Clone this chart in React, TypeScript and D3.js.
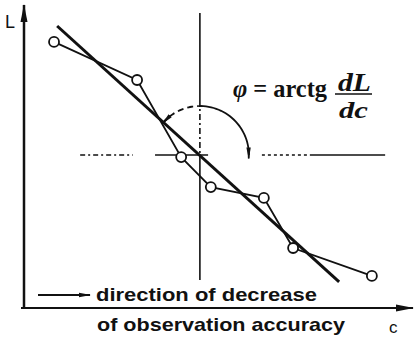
import * as d3 from 'd3';

const W = 416;
const H = 339;

// observed points (c, L) in arbitrary units
const obsC = [0.77, 2.9, 4.03, 4.79, 6.15, 6.9, 8.92];
const obsL = [8.87, 7.6, 5.03, 4.03, 3.67, 2.0, 1.07];

// fitted straight line end points
const fitC = [0.85, 8.08];
const fitL = [9.4, 0.87];

// crosshair through the tangent point
const crossC = 4.51;
const crossL = 5.1;
// vertical crosshair pieces: [fromL, toL, dashed]
const vertPieces: [number, number, boolean][] = [
  [9.83, 6.93, false],
  [6.93, 4.9, true],
  [4.9, 0.93, false],
];
// horizontal crosshair pieces: [fromC, toC, dash]
const horzPieces: [number, number, string | null][] = [
  [1.44, 2.79, '5 3 2 3'],
  [3.36, 4.72, null],
  [6.1, 7.33, '3 3'],
  [7.33, 9.26, null],
];

const x = d3.scaleLinear().domain([0, 10]).range([24, 414]);
const y = d3.scaleLinear().domain([0, 10]).range([308, 8]);

const INK = '#111';

export default function App() {
  const pts = obsC.map((c, i) => [x(c), y(obsL[i])] as [number, number]);
  const poly = d3.line()(pts) ?? '';

  // angle arc around the crosshair centre
  const cx = x(crossC);
  const cy = y(crossL);
  const r = 49;
  const arcPt = (deg: number) => {
    const a = (deg * Math.PI) / 180;
    return [cx + r * Math.cos(a), cy - r * Math.sin(a)] as [number, number];
  };
  const arcPath = (a0: number, a1: number) => {
    const n = 30;
    const p = d3.range(n + 1).map(i => arcPt(a0 + ((a1 - a0) * i) / n));
    return d3.line()(p) ?? '';
  };
  const leftTip = arcPt(140);
  const rightTip = arcPt(-4);

  return (
    <svg width={W} height={H} style={{ position: 'absolute', left: 0, top: 0, background: '#fff' }}>
      <defs>
        <marker id="ah" viewBox="0 0 12 6" refX="11" refY="3" markerWidth="12" markerHeight="6" markerUnits="userSpaceOnUse" orient="auto">
          <path d="M0,0.8 L12,3 L0,5.2 Z" fill={INK} />
        </marker>
        <marker id="axh" viewBox="0 0 18 8" refX="17" refY="4" markerWidth="18" markerHeight="8" markerUnits="userSpaceOnUse" orient="auto">
          <path d="M0,0.5 L18,4 L0,7.5 Z" fill={INK} />
        </marker>
      </defs>

      {/* axes */}
      <line x1={x(0)} y1={y(0) + 1} x2={x(0)} y2={5} stroke={INK} strokeWidth={2.5} markerEnd="url(#axh)" />
      <line x1={x(0) - 3} y1={y(0)} x2={413} y2={y(0)} stroke={INK} strokeWidth={2} markerEnd="url(#axh)" />
      <text x={5} y={28} fontFamily="Liberation Sans, Arial, sans-serif" fontSize={18} fill={INK}>L</text>
      <text x={389} y={333} fontFamily="Liberation Sans, Arial, sans-serif" fontSize={17} fill={INK}>c</text>

      {/* crosshair */}
      {vertPieces.map(([a, b, dashed], i) => (
        <line key={'v' + i} x1={cx} x2={cx} y1={y(a)} y2={y(b)} stroke={INK} strokeWidth={1.6}
          strokeDasharray={dashed ? '6 3 2 3' : undefined} />
      ))}
      {horzPieces.map(([a, b, dash], i) => (
        <line key={'h' + i} x1={x(a)} x2={x(b)} y1={cy} y2={cy} stroke={INK} strokeWidth={1.6}
          strokeDasharray={dash ?? undefined} />
      ))}

      {/* angle arc */}
      <path d={arcPath(140, 92)} fill="none" stroke={INK} strokeWidth={1.8} strokeDasharray="6 4" />
      <path d={arcPath(92, 0)} fill="none" stroke={INK} strokeWidth={1.8} />
      <line x1={arcPt(130)[0]} y1={arcPt(130)[1]} x2={leftTip[0]} y2={leftTip[1]} stroke={INK} strokeWidth={1.8} markerEnd="url(#ah)" />
      <line x1={arcPt(6)[0]} y1={arcPt(6)[1]} x2={rightTip[0]} y2={rightTip[1]} stroke={INK} strokeWidth={1.8} markerEnd="url(#ah)" />

      {/* observations polyline */}
      <path d={poly} fill="none" stroke={INK} strokeWidth={1.8} />
      {/* fitted line */}
      <line x1={x(fitC[0])} y1={y(fitL[0])} x2={x(fitC[1])} y2={y(fitL[1])} stroke={INK} strokeWidth={3} />
      {pts.map(([px, py], i) => (
        <circle key={i} cx={px} cy={py} r={5} fill="#fff" stroke={INK} strokeWidth={1.8} />
      ))}

      {/* formula */}
      <g fontFamily="Liberation Serif, Times New Roman, serif" fill={INK} fontWeight="bold">
        <text x={233} y={97} fontSize={26} textLength={94} lengthAdjust="spacingAndGlyphs">
          <tspan fontStyle="italic">φ</tspan> = arctg
        </text>
        <text x={338} y={91} fontSize={25} fontStyle="italic" textLength={33} lengthAdjust="spacingAndGlyphs">dL</text>
        <text x={339} y={118} fontSize={23} fontStyle="italic" textLength={29} lengthAdjust="spacingAndGlyphs">dc</text>
      </g>
      <line x1={335} x2={372} y1={94} y2={94} stroke={INK} strokeWidth={1.5} />

      {/* caption */}
      <line x1={38} y1={295} x2={90} y2={295} stroke={INK} strokeWidth={1.8} markerEnd="url(#ah)" />
      <g fontFamily="Liberation Sans, Arial, sans-serif" fontWeight="bold" fontSize={19} fill={INK}>
        <text x={96} y={301} textLength={221} lengthAdjust="spacingAndGlyphs">direction of decrease</text>
        <text x={97} y={331} textLength={248} lengthAdjust="spacingAndGlyphs">of observation accuracy</text>
      </g>
    </svg>
  );
}
